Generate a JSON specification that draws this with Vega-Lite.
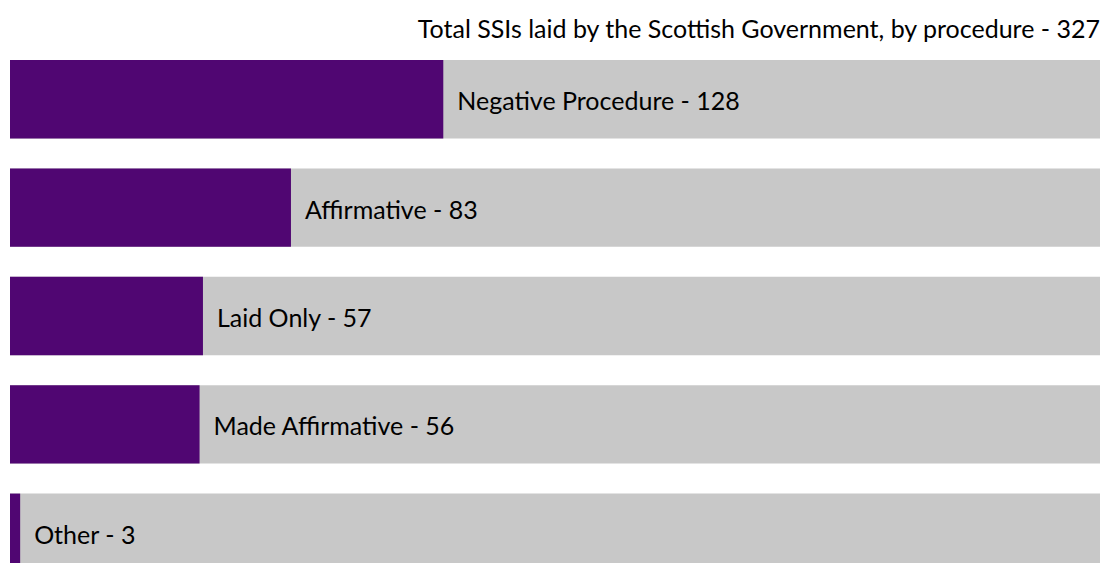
{
  "$schema": "https://vega.github.io/schema/vega-lite/v6.json",
  "width": 1090,
  "height": 512,
  "autosize": {"type": "none"},
  "padding": {"left": 10, "top": 60, "right": 0, "bottom": 0},
  "background": "white",
  "title": {
    "text": "Total SSIs laid by the Scottish Government, by procedure - 327",
    "anchor": "end",
    "font": "Lato",
    "fontSize": 25,
    "fontWeight": "normal",
    "color": "#000000",
    "offset": 17
  },
  "data": {
    "values": [
      {"procedure": "Negative Procedure", "count": 128, "total": 327, "label": "Negative Procedure - 128"},
      {"procedure": "Affirmative", "count": 83, "total": 327, "label": "Affirmative - 83"},
      {"procedure": "Laid Only", "count": 57, "total": 327, "label": "Laid Only - 57"},
      {"procedure": "Made Affirmative", "count": 56, "total": 327, "label": "Made Affirmative - 56"},
      {"procedure": "Other", "count": 3, "total": 327, "label": "Other - 3"}
    ]
  },
  "encoding": {
    "y": {
      "field": "procedure",
      "type": "nominal",
      "sort": null,
      "axis": null,
      "scale": {"paddingInner": 0.2765, "paddingOuter": 0}
    }
  },
  "layer": [
    {
      "mark": {"type": "bar", "color": "#c8c8c8"},
      "encoding": {
        "x": {"field": "total", "type": "quantitative", "scale": {"domain": [0, 322], "clamp": true, "nice": false, "zero": true}, "axis": null}
      }
    },
    {
      "mark": {"type": "bar", "color": "#500672"},
      "encoding": {
        "x": {"field": "count", "type": "quantitative"}
      }
    },
    {
      "mark": {"type": "text", "align": "left", "baseline": "alphabetic", "dx": 14, "dy": 11, "fontSize": 25, "font": "Lato", "color": "#000000"},
      "encoding": {
        "x": {"field": "count", "type": "quantitative"},
        "text": {"field": "label"}
      }
    }
  ],
  "config": {"view": {"stroke": null}}
}
